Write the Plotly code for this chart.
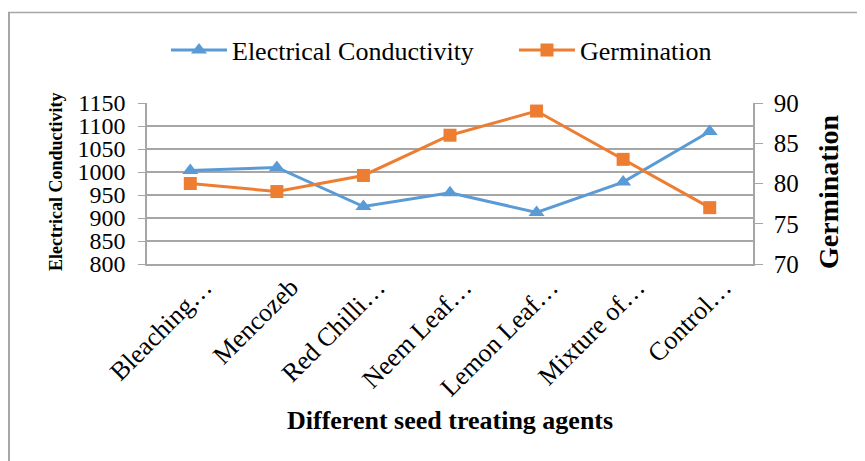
import plotly.graph_objects as go

categories = ["Bleaching…", "Mencozeb", "Red Chilli…", "Neem Leaf…", "Lemon Leaf…", "Mixture of…", "Control…"]
ec_values = [1003, 1010, 925, 955, 912, 978, 1088]
germination_values = [80, 79, 81, 86, 89, 83, 77]
ec_ticks = [800, 850, 900, 950, 1000, 1050, 1100, 1150]
germ_ticks = [70, 75, 80, 85, 90]

BLUE = "#5B9BD5"
ORANGE = "#ED7D31"
GRID = "#A6A6A6"
FONT = "Liberation Serif"

fig = go.Figure()
fig.add_trace(go.Scatter(
    x=categories, y=ec_values, name="Electrical Conductivity",
    mode="lines+markers", line=dict(color=BLUE, width=3),
    marker=dict(symbol="triangle-up", size=14, color=BLUE),
    yaxis="y", legend="legend"))
fig.add_trace(go.Scatter(
    x=categories, y=germination_values, name="Germination",
    mode="lines+markers", line=dict(color=ORANGE, width=3),
    marker=dict(symbol="square", size=13, color=ORANGE),
    yaxis="y2", legend="legend2"))

OFF = 8  # page body margin
W, H = 865 - OFF, 461 - OFF
L, R, T, B = 147 - OFF, 112, 103 - OFF, 197
pw, ph = W - L - R, H - T - B

def px(x):
    return (x - OFF - L) / pw

def py(y):
    return (H - B - (y - OFF)) / ph

legend_common = dict(orientation="h", yanchor="middle", xanchor="left",
                     font=dict(family=FONT, size=26), itemwidth=56,
                     bgcolor="rgba(0,0,0,0)")

fig.update_layout(
    width=W, height=H,
    margin=dict(l=L, r=R, t=T, b=B, pad=0, autoexpand=False),
    paper_bgcolor="white", plot_bgcolor="white",
    font=dict(family=FONT, color="black", size=24),
    showlegend=True,
    legend=dict(x=px(166), y=py(50), **legend_common),
    legend2=dict(x=px(514), y=py(50), **legend_common),
    xaxis=dict(type="category", tickangle=-45, tickfont=dict(family=FONT, size=26),
               showline=True, linecolor=GRID, linewidth=1.5, showgrid=False,
               ticks="", range=[-0.5, len(categories) - 0.5],
               ticklabelshift=14, ticklabelstandoff=-4),
    yaxis=dict(range=[800, 1150], tickvals=ec_ticks, showgrid=True, gridcolor=GRID, gridwidth=1.5,
               showline=True, linecolor=GRID, linewidth=1.5, ticks="outside", ticklen=7,
               tickcolor=GRID, tickfont=dict(family=FONT, size=24), zeroline=False,
               ticklabelstandoff=8),
    yaxis2=dict(range=[70, 90], tickvals=germ_ticks, overlaying="y", side="right", showgrid=False,
                showline=True, linecolor=GRID, linewidth=1.5, ticks="outside", ticklen=8,
                tickcolor=GRID, tickfont=dict(family=FONT, size=25), zeroline=False,
                ticklabelstandoff=6),
    annotations=[
        dict(text="<b>Electrical Conductivity</b>", xref="paper", yref="paper",
             x=px(56), y=py(182), textangle=-90, showarrow=False,
             font=dict(family=FONT, size=18), xanchor="center", yanchor="middle"),
        dict(text="<b>Germination</b>", xref="paper", yref="paper",
             x=px(828), y=py(192), textangle=-90, showarrow=False,
             font=dict(family=FONT, size=28), xanchor="center", yanchor="middle"),
        dict(text="<b>Different seed treating agents</b>", xref="paper", yref="paper",
             x=px(450), y=py(420), showarrow=False,
             font=dict(family=FONT, size=26), xanchor="center", yanchor="middle"),
    ],
    shapes=[
        dict(type="line", xref="paper", yref="paper", x0=px(9), x1=px(9), y0=py(12), y1=py(461),
             line=dict(color="#A6A6A6", width=2)),
        dict(type="line", xref="paper", yref="paper", x0=px(8), x1=px(865), y0=py(12.5), y1=py(12.5),
             line=dict(color="#A6A6A6", width=1.5)),
    ],
)

fig.write_html("out.html")
